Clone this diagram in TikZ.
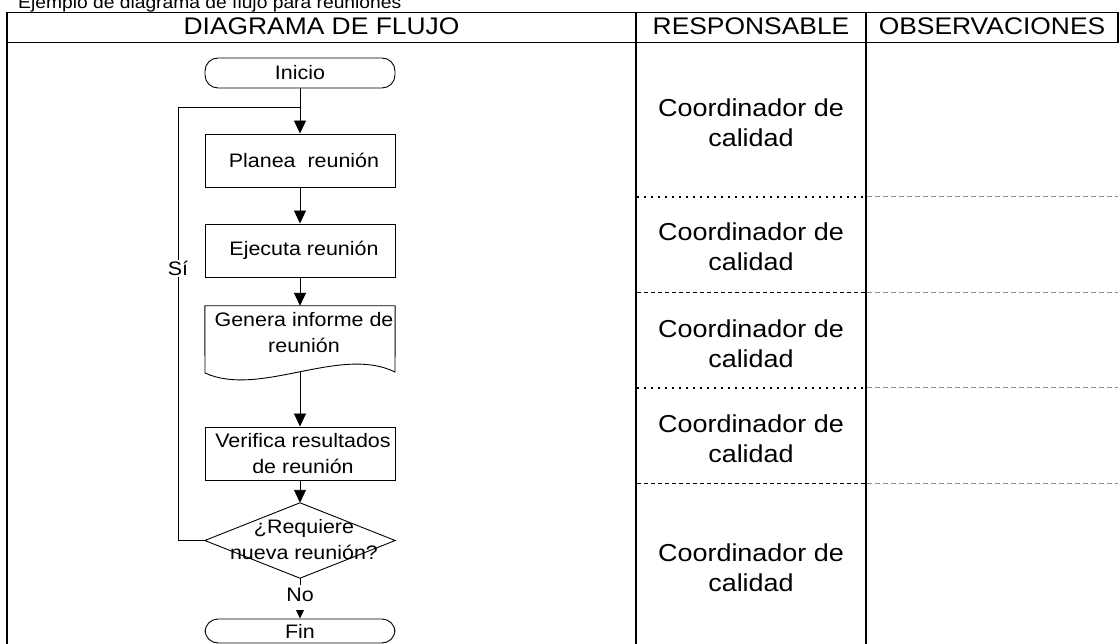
\documentclass[tikz,border=0pt]{standalone}
\usepackage{fontspec}
\setmainfont{Liberation Sans}[FakeStretch=1.1]
\usetikzlibrary{arrows.meta}
\newcommand\flowfont{\fontsize{19.5}{26}\selectfont}
\newcommand\cellfont{\fontsize{24.5}{30}\selectfont}
\newcommand\headfont{\fontsize{24}{28}\selectfont}
\newcommand\titlefont{\fontsize{17.5}{20}\selectfont}
\begin{document}
\begin{tikzpicture}[x=1pt,y=-1pt,
  tbl/.style={line width=1.8pt},
  fl/.style={line width=0.9pt},
  arr/.style={fl,-{Triangle[width=12pt,length=13pt]}},
  shp/.style={minimum width=190pt,inner sep=0pt,font=\flowfont,align=center},
  procbox/.style={shp,draw,fl},
  termbox/.style={shp,draw,fl,rounded corners=13pt},
  txt/.style={font=\flowfont,align=center,inner sep=0pt},
  cell/.style={font=\cellfont,align=center,inner sep=0pt,anchor=north},
  head/.style={font=\headfont,anchor=base,inner sep=0pt},
  dotrow/.style={line width=1.8pt,dash pattern=on 2pt off 5pt},
  dashrow/.style={line width=1pt,dash pattern=on 4pt off 3pt},
  obsrow/.style={line width=1pt,draw=black!45,dash pattern=on 5pt off 3pt},
  lbl/.style={font=\flowfont,fill=white,inner sep=1.5pt}]
\useasboundingbox (0,0) rectangle (1120,644);
\clip (0,0) rectangle (1120,644);

% title
\node[anchor=base west,font=\titlefont,inner sep=0pt] (title) at (18,8.5) {Ejemplo de diagrama de flujo para reuniones};

% table frame
\draw[tbl] (7,12.5) -- (1118,12.5) -- (1118,42.5) -- (7,42.5);
\draw[tbl] (7,11.6) -- (7,650);
\draw[tbl] (636,12.5) -- (636,650);
\draw[tbl] (866,12.5) -- (866,650);

\node[head] (h1) at (321.5,34.5) {DIAGRAMA DE FLUJO};
\node[head] (h2) at (751,34.5) {RESPONSABLE};
\node[head] (h3) at (992,34.5) {OBSERVACIONES};

% row dividers
\draw[dotrow] (637,197) -- (865,197);
\draw[obsrow] (867,197) -- (1118,197);
\draw[dashrow] (637,293) -- (865,293);
\draw[obsrow] (867,293) -- (1118,293);
\draw[dotrow] (637,388) -- (865,388);
\draw[obsrow] (867,388) -- (1118,388);
\draw[dashrow] (637,483) -- (865,483);
\draw[obsrow] (867,483) -- (1118,483);

% responsable cells
\node[cell] (r1) at (751,98.5) {Coordinador de\\calidad};
\node[cell] (r2) at (751,222.5) {Coordinador de\\calidad};
\node[cell] (r3) at (751,319.5) {Coordinador de\\calidad};
\node[cell] (r4) at (751,414.5) {Coordinador de\\calidad};
\node[cell] (r5) at (751,543.5) {Coordinador de\\calidad};

% flowchart nodes
\node[termbox,minimum height=30pt] (ini) at (300,73) {Inicio};
\node[procbox,minimum height=53pt] (pla) at (300,160.5) {\hspace*{8pt}Planea~~reunión};
\node[procbox,minimum height=53pt] (eje) at (300,250.5) {\hspace*{8pt}Ejecuta reunión};
\node[shp,minimum height=66pt] (doc) at (300,339) {};
\node[procbox,minimum height=53pt] (ver) at (300,453.5) {\hspace*{6pt}Verifica resultados\\\hspace*{6pt}de reunión};
\node[shp,minimum height=75pt] (dec) at (300,540.5) {};
\node[termbox,minimum height=24pt] (fin) at (300,631) {Fin};
\coordinate (jn) at (300,107);
\coordinate (loopx) at (178,107);

% connectors
\draw[arr] (ini) -- (pla);
\draw[fl] (dec.west) -| (loopx) -- (jn);
\draw[arr] (pla) -- (eje);
\draw[arr] (eje) -- (doc);
\draw[arr] (doc.center) -- (ver);
\draw[arr] (ver) -- (dec);
\draw[arr] (dec) -- (fin);

% document shape
\draw[fl,fill=white] (doc.north west) -- (doc.north east) -- (395,372)
  .. controls (340,345) and (260,398) .. (205,373) -- cycle;
\node[txt] (doctext) at (304,333) {Genera informe de\\reunión};

% decision shape
\draw[fl,fill=white] (dec.west) -- (dec.north) -- (dec.east) -- (dec.south) -- cycle;
\node[txt] (dectext) at (304,540) {¿Requiere\\nueva reunión?};

% labels
\node[lbl] (si) at (178,268.5) {Sí};
\node[lbl,inner ysep=3pt,text depth=6pt] (no) at (300,597.5) {No};
\end{tikzpicture}
\end{document}
